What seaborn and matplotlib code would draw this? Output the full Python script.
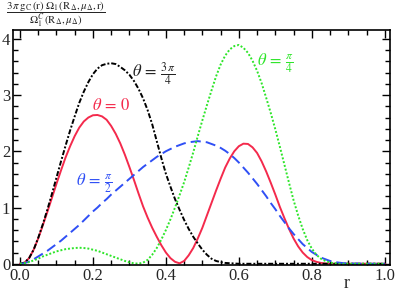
import matplotlib
matplotlib.use("Agg")
import matplotlib.pyplot as plt
import seaborn as sns
from matplotlib.ticker import MultipleLocator

# r grid: step 0.0125 up to 0.8875, then a coarse tail
r = [0.0, 0.0125, 0.025, 0.0375, 0.05, 0.0625, 0.075, 0.0875,
     0.1, 0.1125, 0.125, 0.1375, 0.15, 0.1625, 0.175, 0.1875,
     0.2, 0.2125, 0.225, 0.2375, 0.25, 0.2625, 0.275, 0.2875,
     0.3, 0.3125, 0.325, 0.3375, 0.35, 0.3625, 0.375, 0.3875,
     0.4, 0.4125, 0.425, 0.4375, 0.45, 0.4625, 0.475, 0.4875,
     0.5, 0.5125, 0.525, 0.5375, 0.55, 0.5625, 0.575, 0.5875,
     0.6, 0.6125, 0.625, 0.6375, 0.65, 0.6625, 0.675, 0.6875,
     0.7, 0.7125, 0.725, 0.7375, 0.75, 0.7625, 0.775, 0.7875,
     0.8, 0.8125, 0.825, 0.8375, 0.85, 0.8625, 0.875, 0.8875,
     0.9, 0.95, 1.0]

theta_0 = [0.0, 0.02, 0.1, 0.25, 0.45, 0.68, 0.92, 1.17,
           1.42, 1.66, 1.89, 2.09, 2.27, 2.42, 2.53, 2.6,
           2.64, 2.645, 2.62, 2.56, 2.45, 2.31, 2.14, 1.94,
           1.72, 1.49, 1.25, 1.02, 0.82, 0.64, 0.48, 0.33,
           0.2, 0.1, 0.035, 0.008, 0.05, 0.15, 0.28, 0.45,
           0.64, 0.86, 1.08, 1.3, 1.51, 1.71, 1.87, 2.0,
           2.09, 2.135, 2.13, 2.07, 1.97, 1.82, 1.64, 1.44,
           1.23, 1.01, 0.81, 0.62, 0.45, 0.31, 0.2, 0.12,
           0.065, 0.035, 0.015, 0.005, 0.0, 0.0, 0.0, 0.0,
           0.0, 0.0, 0.0]

theta_3pi4 = [0.0, 0.02, 0.1, 0.25, 0.46, 0.7, 0.96, 1.24,
              1.53, 1.82, 2.1, 2.37, 2.62, 2.86, 3.06, 3.23,
              3.37, 3.47, 3.53, 3.555, 3.565, 3.55, 3.5, 3.44,
              3.36, 3.25, 3.11, 2.94, 2.73, 2.48, 2.18, 1.88,
              1.6, 1.37, 1.15, 0.96, 0.78, 0.62, 0.48, 0.36,
              0.25, 0.16, 0.09, 0.05, 0.03, 0.015, 0.01, 0.005,
              0.0, 0.0, 0.0, 0.0, 0.0, 0.0, 0.0, 0.0,
              0.0, 0.0, 0.0, 0.0, 0.0, 0.0, 0.0, 0.0,
              0.0, 0.0, 0.0, 0.0, 0.0, 0.0, 0.0, 0.0,
              0.0, 0.0, 0.0]

theta_pi2 = [0.0, 0.01, 0.04, 0.08, 0.13, 0.18, 0.23, 0.29,
             0.35, 0.41, 0.48, 0.55, 0.62, 0.69, 0.77, 0.85,
             0.93, 1.0, 1.08, 1.15, 1.23, 1.3, 1.37, 1.44,
             1.51, 1.58, 1.65, 1.72, 1.78, 1.84, 1.9, 1.95,
             2.0, 2.04, 2.08, 2.11, 2.14, 2.16, 2.17, 2.18,
             2.17, 2.16, 2.13, 2.1, 2.06, 2.01, 1.95, 1.88,
             1.8, 1.71, 1.62, 1.52, 1.42, 1.31, 1.2, 1.08,
             0.97, 0.85, 0.74, 0.63, 0.53, 0.44, 0.35, 0.28,
             0.21, 0.16, 0.11, 0.08, 0.05, 0.03, 0.02, 0.01,
             0.005, 0.0, 0.0]

theta_pi4 = [0.0, 0.01, 0.03, 0.06, 0.09, 0.13, 0.16, 0.19,
             0.22, 0.24, 0.26, 0.27, 0.28, 0.285, 0.28, 0.27,
             0.25, 0.23, 0.2, 0.17, 0.14, 0.11, 0.08, 0.05,
             0.025, 0.008, 0.002, 0.02, 0.07, 0.16, 0.28, 0.43,
             0.6, 0.79, 1.0, 1.22, 1.45, 1.71, 1.98, 2.27,
             2.55, 2.82, 3.08, 3.33, 3.54, 3.7, 3.81, 3.87,
             3.89, 3.84, 3.75, 3.61, 3.43, 3.21, 2.95, 2.68,
             2.39, 2.08, 1.76, 1.44, 1.13, 0.86, 0.62, 0.42,
             0.27, 0.16, 0.09, 0.05, 0.02, 0.01, 0.0, 0.0,
             0.0, 0.0, 0.0]

sns.set_style("ticks")
plt.rcParams['font.family'] = ['Liberation Serif', 'DejaVu Serif']
plt.rcParams['mathtext.fontset'] = 'stix'

fig = plt.figure(figsize=(3.95, 2.94), dpi=100)
ax = fig.add_axes([0.033, 0.099, 0.954, 0.799])

red = '#f42a4c'
blue = '#2f4ff5'
green = '#2ee52a'
lw = 1.4

sns.lineplot(x=r, y=theta_0, ax=ax, color=red, lw=lw, linestyle='-')
sns.lineplot(x=r, y=theta_3pi4, ax=ax, color='black', lw=lw,
             linestyle=(0, (2.6, 1.0, 1.0, 1.0)))
sns.lineplot(x=r, y=theta_pi2, ax=ax, color=blue, lw=lw,
             linestyle=(0, (5.2, 2.6)))
sns.lineplot(x=r, y=theta_pi4, ax=ax, color=green, lw=lw,
             linestyle=(0, (1.0, 1.0)))

ax.set_xlim(-0.019, 1.014)
ax.set_ylim(-0.02, 4.156)
ax.xaxis.set_major_locator(MultipleLocator(0.2))
ax.xaxis.set_minor_locator(MultipleLocator(0.05))
ax.yaxis.set_major_locator(MultipleLocator(1))
ax.yaxis.set_minor_locator(MultipleLocator(0.2))
ax.xaxis.set_major_formatter(plt.FuncFormatter(lambda v, p: f'{v:.1f}'))
ax.yaxis.set_major_formatter(plt.FuncFormatter(lambda v, p: f'{v:.0f}'))
ax.tick_params(which='both', direction='in', top=True, right=True,
               labelsize=12, pad=2, width=1.0, color='black')
ax.tick_params(which='major', length=6)
ax.tick_params(which='minor', length=3.5)
for s in ax.spines.values():
    s.set_linewidth(1.2)
    s.set_color('black')

ax.text(0.249, 2.8, r'$\theta\,=\,0$', color=red, fontsize=12,
        ha='center', va='center')
ax.text(0.367, 3.36, r'$\theta\,=\,\frac{3\,\pi}{4}$', color='#222222',
        fontsize=12, ha='center', va='center')
ax.text(0.203, 1.44, r'$\theta\,=\,\frac{\pi}{2}$', color=blue, fontsize=12,
        ha='center', va='center')
ax.text(0.70, 3.57, r'$\theta\,=\,\frac{\pi}{4}$', color=green, fontsize=12,
        ha='center', va='center')

fig.text(56 / 395, 1 - 14 / 294,
         r'$\dfrac{3\,\pi\,\mathrm{g_C\,(r)}\;\Omega_1\,(\mathrm{R}_\Delta,\mu_\Delta,\mathrm{r})}'
         r'{\Omega_1^{C}\,(\mathrm{R}_\Delta,\mu_\Delta)}$',
         fontsize=7.8, ha='center', va='center')
fig.text(347 / 395, 1 - 284 / 294, 'r', fontsize=13, ha='center', va='center')

fig.savefig('out.png', dpi=100)
